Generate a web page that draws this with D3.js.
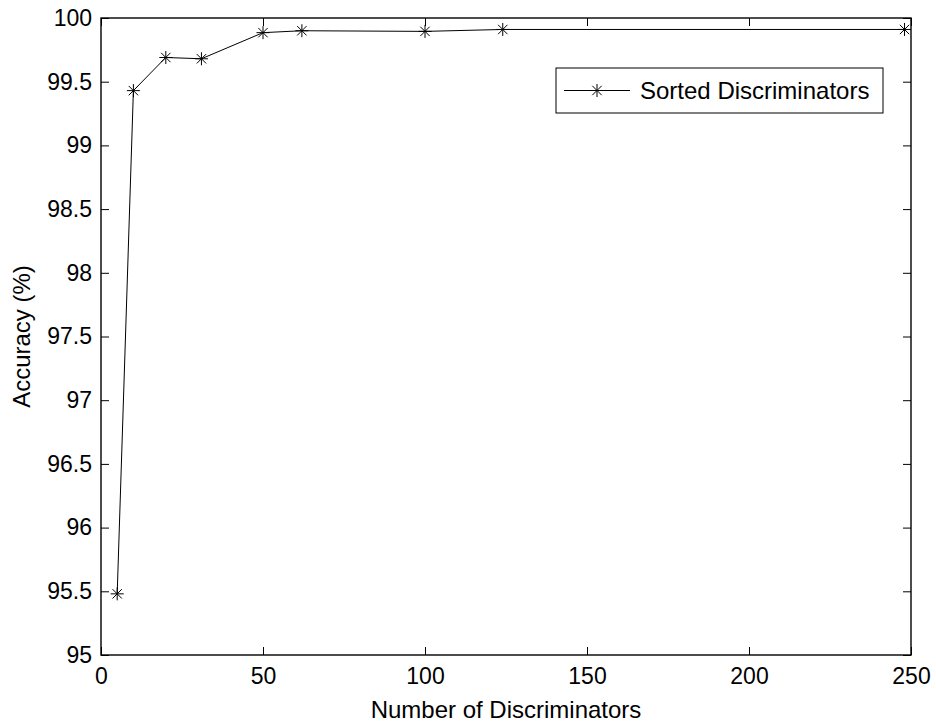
<!DOCTYPE html>
<html>
<head>
<meta charset="utf-8">
<script src="https://cdn.jsdelivr.net/npm/d3@7"></script>
<style>
  html, body { margin: 0; padding: 0; background: #fff; }
  svg { display: block; font-family: "Liberation Sans", Arial, sans-serif; }
</style>
</head>
<body>
<svg id="chart" width="936" height="723"></svg>
<script>
// Data
const discriminators = [5, 10, 20, 31, 50, 62, 100, 124, 248];
const accuracy = [95.48, 99.43, 99.69, 99.68, 99.885, 99.90, 99.895, 99.91, 99.91];
const xTicks = [0, 50, 100, 150, 200, 250];
const yTicks = [95, 95.5, 96, 96.5, 97, 97.5, 98, 98.5, 99, 99.5, 100];
const seriesName = 'Sorted Discriminators';

const svg = d3.select('#chart');
const m = { left: 101, right: 911, top: 18, bottom: 655 };
const tickFont = 23;
const labelFont = 24;

const x = d3.scaleLinear().domain([0, 250]).range([m.left, m.right]);
const y = d3.scaleLinear().domain([95, 100]).range([m.bottom, m.top]);

// axes with inward ticks on all four sides (box on)
const tickLen = 8;
const axisStyle = g => {
    g.select('.domain').remove();
    g.selectAll('line').attr('stroke', '#000').attr('stroke-width', 1);
    g.selectAll('text').attr('fill', '#000').style('font-size', tickFont + 'px')
        .style('font-family', '"Liberation Sans", Arial, sans-serif');
};

svg.append('g')
    .attr('transform', `translate(0,${m.bottom})`)
    .call(d3.axisBottom(x).tickValues(xTicks).tickSize(-tickLen).tickPadding(13).tickFormat(d3.format('d')))
    .call(axisStyle);

svg.append('g')
    .attr('transform', `translate(0,${m.top})`)
    .call(d3.axisTop(x).tickValues(xTicks).tickSize(-tickLen).tickFormat(''))
    .call(axisStyle);

svg.append('g')
    .attr('transform', `translate(${m.left},0)`)
    .call(d3.axisLeft(y).tickValues(yTicks).tickSize(-tickLen).tickPadding(9).tickFormat(d => String(d)))
    .call(axisStyle);

svg.append('g')
    .attr('transform', `translate(${m.right},0)`)
    .call(d3.axisRight(y).tickValues(yTicks).tickSize(-tickLen).tickFormat(''))
    .call(axisStyle);

// box
svg.append('rect')
    .attr('x', m.left).attr('y', m.top)
    .attr('width', m.right - m.left).attr('height', m.bottom - m.top)
    .attr('fill', 'none').attr('stroke', '#000').attr('stroke-width', 1.4);

// asterisk marker
const star = r => {
    const d = r * 0.72;
    return `M0,${-r}V${r}M${-r},0H${r}M${-d},${-d}L${d},${d}M${-d},${d}L${d},${-d}`;
};

const points = discriminators.map((d, i) => [d, accuracy[i]]);

svg.append('path')
    .datum(points)
    .attr('d', d3.line().x(d => x(d[0])).y(d => y(d[1])))
    .attr('fill', 'none').attr('stroke', '#000').attr('stroke-width', 1);

svg.append('g')
    .selectAll('path')
    .data(points)
    .join('path')
    .attr('transform', d => `translate(${x(d[0])},${y(d[1])})`)
    .attr('d', star(6.5))
    .attr('stroke', '#000').attr('stroke-width', 1).attr('fill', 'none');

// axis labels
svg.append('text')
    .attr('x', (m.left + m.right) / 2).attr('y', 718)
    .attr('text-anchor', 'middle')
    .style('font-size', labelFont + 'px')
    .text('Number of Discriminators');

svg.append('text')
    .attr('transform', `translate(30,${(m.top + m.bottom) / 2}) rotate(-90)`)
    .attr('text-anchor', 'middle')
    .style('font-size', labelFont + 'px')
    .text('Accuracy (%)');

// legend
const lg = svg.append('g');
lg.append('rect')
    .attr('x', 556).attr('y', 68).attr('width', 327).attr('height', 45)
    .attr('fill', '#fff').attr('stroke', '#000').attr('stroke-width', 1);
lg.append('line')
    .attr('x1', 564).attr('x2', 630).attr('y1', 90.5).attr('y2', 90.5)
    .attr('stroke', '#000').attr('stroke-width', 1);
lg.append('path')
    .attr('transform', 'translate(597,90.5)')
    .attr('d', star(6.5))
    .attr('stroke', '#000').attr('fill', 'none');
lg.append('text')
    .attr('x', 640).attr('y', 99)
    .style('font-size', labelFont + 'px')
    .text(seriesName);
</script>
</body>
</html>
